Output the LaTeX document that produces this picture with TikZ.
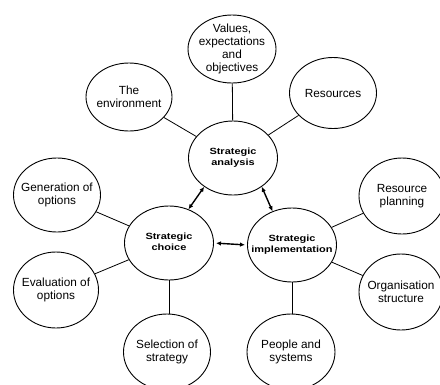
\documentclass[tikz,border=0pt]{standalone}
\usepackage{fontspec}
\usepackage{graphicx}
\setmainfont{Liberation Sans}
\usetikzlibrary{shapes.geometric,arrows.meta}
% wide, heavy label for the three stage ellipses
\newcommand{\stagetext}[1]{\scalebox{1.22}[1]{\bfseries\fontsize{9}{10.5}\selectfont\begin{tabular}{@{}c@{}}#1\end{tabular}}}
\begin{document}
\begin{tikzpicture}[x=1pt,y=-1pt,
  oval/.style={ellipse,draw,line width=0.9pt,inner sep=0pt},
  bubbletext/.style={inner sep=0pt,align=center,
    font=\fontsize{11.8}{13}\selectfont},
  hub/.style={oval,minimum width=89pt,minimum height=74pt},
  hubtext/.style={inner sep=0pt},
  spoke/.style={line width=0.8pt},
  link/.style={line width=1.4pt,{Latex[length=5pt,width=4.5pt]}-{Latex[length=5pt,width=4.5pt]}}]
\useasboundingbox (0,0) rectangle (440,384);
\fill[white] (0,0) rectangle (440,384);

% three central stages (outline and label kept apart so the label can overhang)
\node[hub] (ana) at (233,158) {};
\node[hub] (cho) at (169,243) {};
\node[hub] (imp) at (292,245) {};
\node[hubtext] (anat) at (ana.center) {\stagetext{Strategic\\analysis}};
\node[hubtext] (chot) at (cho.center) {\stagetext{Strategic\\choice}};
\node[hubtext] (impt) at (imp.center) {\stagetext{Strategic\\implementation}};

% analysis satellites
\node[oval,minimum width=88pt,minimum height=68pt] (val) at (232,49) {};
\node[oval,minimum width=86pt,minimum height=68pt] (env) at (129,97) {};
\node[oval,minimum width=87pt,minimum height=71pt] (res) at (333,93) {};
\node[bubbletext] (valt) at (val.center) {Values,\\expectations\\and\\objectives};
\node[bubbletext] (envt) at (env.center) {The\\environment};
\node[bubbletext] (rest) at (res.center) {Resources};

% choice satellites
\node[oval,minimum width=87pt,minimum height=74pt] (gen) at (57,195) {};
\node[oval,minimum width=85pt,minimum height=76pt] (eva) at (56,290) {};
\node[oval,minimum width=87pt,minimum height=76pt] (sel) at (167,352) {};
\node[bubbletext] (gent) at (gen.center) {Generation of\\options};
\node[bubbletext] (evat) at (eva.center) {Evaluation of\\options};
\node[bubbletext] (selt) at (sel.center) {Selection of\\strategy};

% implementation satellites
\node[oval,minimum width=86pt,minimum height=76pt] (rpl) at (402,196) {};
\node[oval,minimum width=84pt,minimum height=76pt] (org) at (401,292) {};
\node[oval,minimum width=88pt,minimum height=76pt] (peo) at (291,352) {};
\node[bubbletext] (rplt) at (rpl.center) {Resource\\planning};
\node[bubbletext] (orgt) at (org.center) {Organisation\\structure};
\node[bubbletext] (peot) at (peo.center) {People and\\systems};

% spokes
\draw[spoke] (ana) -- (val);
\draw[spoke] (ana) -- (env);
\draw[spoke] (ana) -- (res);
\draw[spoke] (cho) -- (gen);
\draw[spoke] (cho) -- (eva);
\draw[spoke] (cho.south) -- (cho.south |- sel.north);
\draw[spoke] (imp) -- (rpl);
\draw[spoke] (imp) -- (org);
\draw[spoke] (imp.south) -- (imp.south |- peo.north);

% links between the stages
\draw[link] (cho.60) -- (ana.225);
\draw[link] (imp.120) -- (ana.315);
\draw[link,shorten <=2pt,shorten >=2pt] (cho.east) -- (imp.west);
\end{tikzpicture}
\end{document}
